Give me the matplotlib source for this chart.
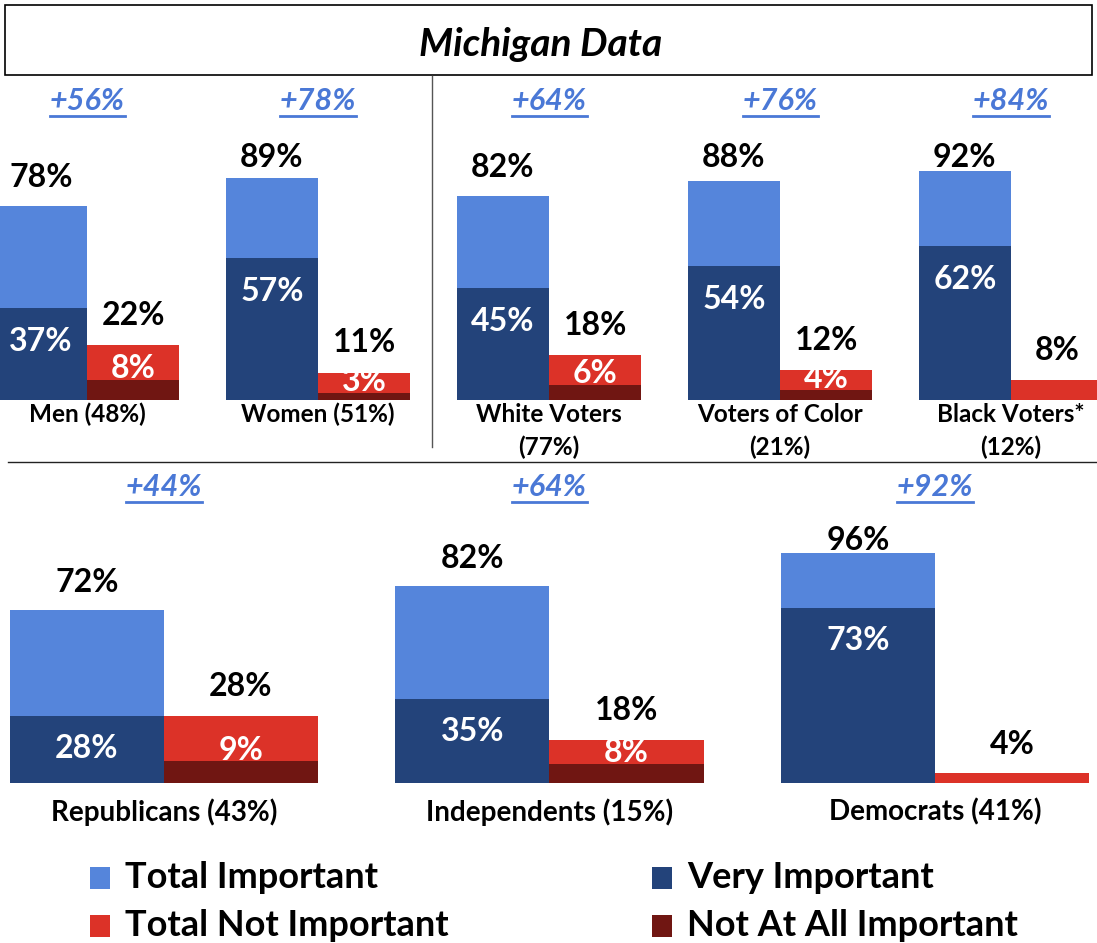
import matplotlib
matplotlib.use("Agg")
import matplotlib.pyplot as plt
from matplotlib.patches import Rectangle
from matplotlib.lines import Line2D

plt.rcParams['font.family'] = ['Lato', 'DejaVu Sans']

# colours
C_TOTAL = '#5585DB'
C_VERY = '#23437A'
C_NOT = '#DC3228'
C_NOTALL = '#701612'
C_DIFF = '#4A78D6'

# top row data
top_groups = ['Men (48%)', 'Women (51%)', 'White Voters\n(77%)', 'Voters of Color\n(21%)', 'Black Voters*\n(12%)']
top_total = [78, 89, 82, 88, 92]
top_very = [37, 57, 45, 54, 62]
top_not = [22, 11, 18, 12, 8]
top_notall = [8, 3, 6, 4, 0]
top_diff = ['+56%', '+78%', '+64%', '+76%', '+84%']

# bottom row data
bot_groups = ['Republicans (43%)', 'Independents (15%)', 'Democrats (41%)']
bot_total = [72, 82, 96]
bot_very = [28, 35, 73]
bot_not = [28, 18, 4]
bot_notall = [9, 8, 0]
bot_diff = ['+44%', '+64%', '+92%']

W, H = 1097, 943
fig = plt.figure(figsize=(W / 100, H / 100), dpi=100)


def px_axes(x0, y0, x1, y1):
    return fig.add_axes([x0 / W, 1 - y1 / H, (x1 - x0) / W, (y1 - y0) / H])


underline_list = []


def draw_row(ax, groups, total, very, nott, notall, diff, cap, diff_y, lab_y, lab_size):
    w = 0.4
    for i in range(len(groups)):
        ax.bar(i - w / 2, total[i], width=w, color=C_TOTAL, linewidth=0)
        ax.bar(i - w / 2, very[i], width=w, color=C_VERY, linewidth=0)
        ax.bar(i + w / 2, nott[i], width=w, color=C_NOT, linewidth=0)
        if notall[i] > 0:
            ax.bar(i + w / 2, notall[i], width=w, color=C_NOTALL, linewidth=0)
        ax.text(i - w / 2, min(total[i] + 11.5, cap), f'{total[i]}%', ha='center', va='center',
                fontsize=23, fontweight='bold', color='black')
        ax.text(i - w / 2, very[i] - 13.5, f'{very[i]}%', ha='center', va='center',
                fontsize=23, fontweight='bold', color='white')
        ax.text(i + w / 2, nott[i] + 12, f'{nott[i]}%', ha='center', va='center',
                fontsize=23, fontweight='bold', color='black')
        if notall[i] > 0:
            ax.text(i + w / 2, notall[i] + 4.5, f'{notall[i]}%', ha='center', va='center',
                    fontsize=23, fontweight='bold', color='white')
        t = ax.text(i, diff_y, diff[i], ha='center', va='center', fontsize=22,
                    fontweight='bold', fontstyle='italic', color=C_DIFF, clip_on=False)
        underline_list.append(t)
        ax.text(i, lab_y, groups[i], ha='center', va='top', fontsize=lab_size,
                fontweight='bold', color='black', clip_on=False, linespacing=1.5)
    ax.set_axis_off()


# top row: baseline at y=400px, 2.49 px per %
ax1 = px_axes(0, 80, W, 400)
ax1.set_xlim(-0.377, 4.372)
ax1.set_ylim(0, 320 / 2.49)
draw_row(ax1, top_groups, top_total, top_very, top_not, top_notall, top_diff,
         cap=97.5, diff_y=(400 - 101) / 2.49, lab_y=-1.2, lab_size=17.5)

# bottom row: baseline at y=783px, 2.40 px per %
ax2 = px_axes(0, 460, W, 783)
ax2.set_xlim(-0.425, 2.42)
ax2.set_ylim(0, 323 / 2.40)
draw_row(ax2, bot_groups, bot_total, bot_very, bot_not, bot_notall, bot_diff,
         cap=101, diff_y=(783 - 487) / 2.40, lab_y=-6.5, lab_size=20)

# title box
fig.patches.append(Rectangle((5 / W, 1 - 75 / H), 1087 / W, 70 / H, transform=fig.transFigure,
                             facecolor='white', edgecolor='black', linewidth=1.2))
fig.text(541 / W, 1 - 45 / H, 'Michigan Data', ha='center', va='center', fontsize=28,
         fontweight='bold', fontstyle='italic')

# separators
fig.lines.append(Line2D([432 / W, 432 / W], [1 - 76 / H, 1 - 447 / H], transform=fig.transFigure,
                        color='#555555', linewidth=1.0))
fig.lines.append(Line2D([8 / W, W / W], [1 - 462 / H, 1 - 462 / H], transform=fig.transFigure,
                        color='#222222', linewidth=1.0))

# legend
legend_items = [('Total Important', C_TOTAL, 90, 878), ('Total Not Important', C_NOT, 90, 926),
                ('Very Important', C_VERY, 652, 878), ('Not At All Important', C_NOTALL, 652, 926)]
for label, col, x, y in legend_items:
    fig.patches.append(Rectangle((x / W, 1 - (y + 11) / H), 20 / W, 22 / H,
                                 transform=fig.transFigure, facecolor=col, edgecolor='none'))
    fig.text((x + 35) / W, 1 - y / H, label, ha='left', va='center', fontsize=26, fontweight='bold')

# underline the difference labels
fig.canvas.draw()
r = fig.canvas.get_renderer()
for t in underline_list:
    bb = t.get_window_extent(renderer=r)
    yy = bb.y0 - 1
    fig.lines.append(Line2D([bb.x0 / W, bb.x1 / W], [yy / H, yy / H], transform=fig.transFigure,
                            color=C_DIFF, linewidth=2.0))

fig.savefig('out.png', dpi=100)
